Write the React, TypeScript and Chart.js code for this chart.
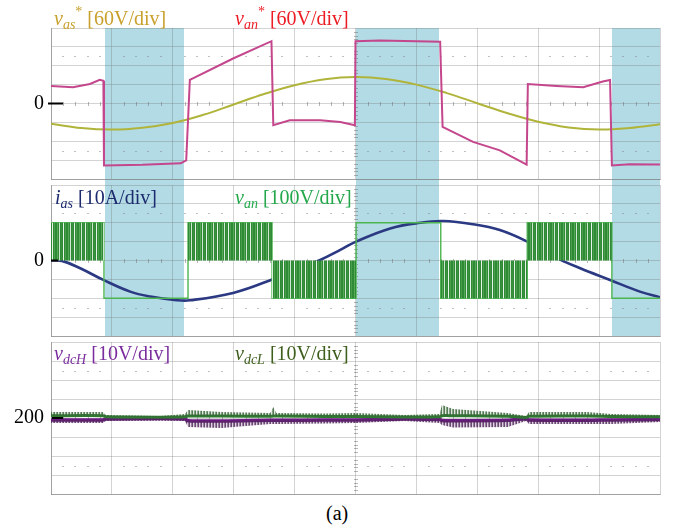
import React, { useEffect, useRef } from 'react';
import { Chart, registerables } from 'chart.js';

Chart.register(...registerables);

// ---------------- data (time axis in oscilloscope divisions 0..10) ----------------
const shadeStart = [0.89, 5.01, 9.21];
const shadeEnd = [2.18, 6.37, 10];

// Panel 1: v_as* and v_an* (V), 60 V/div
const vasStarT = [0, 0.5, 1, 1.5, 2, 2.5, 3, 3.5, 4, 4.5, 5, 5.5, 6, 6.5, 7, 7.5, 8, 8.5, 9, 9.5, 10];
const vasStarV = [-64, -78, -83, -77, -62, -36, -3, 30, 58, 77, 84, 78, 60, 33, 1, -31, -58, -76, -83, -78, -66];

const vanStarT = [0, 0.36, 0.64, 0.8, 0.86, 0.87, 1.5, 2.13, 2.22, 2.28, 2.99, 3.62, 3.65, 3.92, 4.42, 4.75, 4.99, 5.0, 5.4, 6.39, 6.43, 6.93, 7.37, 7.81, 7.83, 8.3, 8.74, 9.06, 9.18, 9.21, 9.5, 10];
const vanStarV = [56, 52, 62, 75, 72, -197, -195, -190, -181, 75, 143, 198, -69, -53, -53, -59, -69, 198, 200, 196, -74, -122, -149, -194, 62, 56, 52, 70, 75, -197, -193, -194];

// Panel 2: i_as (A), 10 A/div ; v_an (V), 100 V/div
const iasT = [0, 0.18, 0.48, 0.86, 1.3, 1.63, 2.06, 2.28, 2.99, 3.65, 4.42, 4.75, 5.01, 5.57, 6.06, 6.44, 6.93, 7.37, 7.82, 8.31, 8.69, 9.18, 9.67, 10];
const iasV = [0, -0.2, -4.1, -10.3, -16.5, -19.1, -21.0, -21.1, -17.2, -9.8, 0.3, 5.6, 10, 17, 20, 20.9, 19.2, 16.1, 10, 1.3, -4.1, -10.3, -16.5, -19.5];

const vanSegStart = [0, 0.87, 2.25, 3.63, 5.01, 6.4, 7.82, 9.21];
const vanSegEnd = [0.87, 2.25, 3.63, 5.01, 6.4, 7.82, 9.21, 10];
const vanLevel = [200, -200, 200, -200, 200, -200, 200, -200];
const vanPwm = [true, false, true, true, false, true, true, false];

// Panel 3: v_dcH / v_dcL (V), 10 V/div, around 200 V
const dcT = [0, 0.85, 0.9, 1.8, 2.2, 2.25, 2.8, 3.6, 3.65, 3.7, 4.5, 5.0, 5.8, 6.38, 6.42, 6.6, 7.5, 7.8, 7.85, 8.8, 9.2, 10];
const dcLUpper = [203.2, 203.2, 201.6, 201.1, 202.1, 204.2, 203.2, 202.6, 205.8, 202.6, 202.4, 202.6, 201.6, 202.1, 206.8, 204.7, 202.6, 201.1, 203.2, 203.2, 202.1, 201.6];
const dcLCore = [201.2, 201.2, 200.6, 200.4, 200.6, 201.0, 201.0, 200.9, 201.0, 201.0, 200.8, 200.8, 200.5, 200.6, 201.2, 201.2, 200.9, 200.3, 200.9, 201.0, 200.8, 200.6];
const dcHCore = [199.0, 199.0, 199.5, 199.8, 199.5, 198.6, 198.4, 198.8, 198.8, 198.8, 198.9, 199.0, 199.5, 199.2, 198.7, 198.6, 198.8, 199.6, 198.9, 198.8, 199.0, 199.2];
const dcHLower = [197.4, 197.4, 198.4, 198.6, 198.4, 195.3, 194.7, 196.8, 196.8, 196.8, 197.1, 197.4, 198.4, 197.4, 196.3, 195.0, 195.3, 198.4, 196.8, 196.8, 196.8, 197.9];

// ---------------- styling ----------------
const SERIF = '"Liberation Serif", "Times New Roman", Times, serif';
const GRID = 'rgba(110,110,110,0.3)';
const BORDER = 'rgba(120,120,120,0.55)';
const SHADE = 'rgb(178,219,230)';

const pts = (t: number[], v: number[]) => t.map((x, i) => ({ x, y: v[i] }));

function makePattern(cols: string[]): any {
  const c = document.createElement('canvas');
  c.width = cols.length;
  c.height = 1;
  const ctx = c.getContext('2d')!;
  cols.forEach((col, i) => {
    ctx.fillStyle = col;
    ctx.fillRect(i, 0, 1, 1);
  });
  return ctx.createPattern(c, 'repeat');
}

function makeScopePlugin(cfg: any) {
  return {
    id: 'scope',
    beforeDraw(chart: any) {
      if (!cfg.shade) return;
      const { ctx, chartArea: a } = chart;
      const xs = chart.scales.x;
      ctx.save();
      ctx.fillStyle = SHADE;
      const bottom = cfg.shadeToCanvasBottom ? chart.height : a.bottom;
      for (let i = 0; i < shadeStart.length; i++) {
        const x1 = Math.round(xs.getPixelForValue(shadeStart[i]));
        const x2 = Math.round(xs.getPixelForValue(shadeEnd[i]));
        ctx.fillRect(x1, a.top, x2 - x1, bottom - a.top);
      }
      ctx.restore();
    },
    beforeDatasetsDraw(chart: any) {
      const { ctx } = chart;
      const xs = chart.scales.x;
      const ys = chart.scales.y;
      ctx.save();
      ctx.fillStyle = 'rgba(120,120,120,0.45)';
      for (const v of cfg.dotRows) {
        const y = Math.round(ys.getPixelForValue(v));
        for (let i = 1; i < 50; i++) {
          if (i % 5 === 0) continue;
          const x = Math.round(xs.getPixelForValue(i * 0.2));
          ctx.fillRect(x - 1, y, 2, 1);
        }
      }
      ctx.fillStyle = 'rgba(110,110,110,0.5)';
      const y0 = Math.round(ys.getPixelForValue(cfg.zeroVal));
      for (let i = 1; i < 50; i++) {
        if (i % 5 === 0) continue;
        const x = Math.round(xs.getPixelForValue(i * 0.2));
        ctx.fillRect(x, y0 - 2, 1, 4);
      }
      const xc = Math.round(xs.getPixelForValue(5));
      for (let i = 1; i < 40; i++) {
        if (i % 5 === 0) continue;
        const v = cfg.yMin + (i * (cfg.yMax - cfg.yMin)) / 40;
        const y = Math.round(ys.getPixelForValue(v));
        ctx.fillRect(xc - 2, y, 4, 1);
      }
      ctx.restore();
    },
    afterDatasetsDraw(chart: any) {
      if (!cfg.marker) return;
      const { ctx, chartArea: a } = chart;
      const ys = chart.scales.y;
      const y = ys.getPixelForValue(cfg.zeroVal);
      ctx.save();
      ctx.strokeStyle = '#000';
      ctx.lineWidth = 2;
      ctx.beginPath();
      ctx.moveTo(a.left + cfg.marker[0], y);
      ctx.lineTo(a.left + cfg.marker[1], y);
      ctx.stroke();
      ctx.restore();
    },
  };
}

function baseOptions(min: number, max: number, step: number, label: number, padTop: number, padBottom: number, extraScales: any = {}) {
  return {
    responsive: false,
    maintainAspectRatio: false,
    animation: false,
    devicePixelRatio: 1,
    layout: { autoPadding: false, padding: { top: padTop, bottom: padBottom, left: 0, right: 24 } },
    plugins: { legend: { display: false }, tooltip: { enabled: false }, title: { display: false } },
    elements: { point: { radius: 0 } },
    scales: {
      x: {
        type: 'linear',
        min: 0,
        max: 10,
        ticks: { display: false, stepSize: 1, autoSkip: false },
        grid: { color: GRID, drawTicks: false, lineWidth: 1 },
        border: { color: BORDER },
        afterFit: (s: any) => {
          s.height = 0;
          s.paddingLeft = 0;
          s.paddingRight = 0;
        },
      },
      y: {
        type: 'linear',
        min,
        max,
        ticks: {
          stepSize: step,
          autoSkip: false,
          padding: 7,
          color: '#000',
          font: { family: SERIF, size: 20 },
          callback: (v: any) => (Math.abs(Number(v) - label) < 1e-6 ? String(label) : ''),
        },
        grid: { color: GRID, drawTicks: false, lineWidth: 1 },
        border: { color: BORDER },
        afterFit: (s: any) => {
          s.width = 51;
          s.paddingTop = 0;
          s.paddingBottom = 0;
        },
      },
      ...extraScales,
    },
  };
}

function SigLabel(props: { left: number; baseline: number; color: string; sym: string; sub: string; star?: boolean; scale: string }) {
  const { left, baseline, color, sym, sub, star, scale } = props;
  return (
    <div
      style={{
        position: 'absolute',
        left,
        top: baseline - 17,
        color,
        fontFamily: SERIF,
        fontSize: 20,
        lineHeight: '20px',
        whiteSpace: 'nowrap',
        zIndex: 5,
      }}
    >
      <span style={{ fontStyle: 'italic' }}>{sym}</span>
      <span style={{ fontStyle: 'italic', fontSize: 14, position: 'relative', top: 4 }}>{sub}</span>
      {star ? <span style={{ fontSize: 14, position: 'relative', top: -9 }}>*</span> : null}
      {' [' + scale + ']'}
    </div>
  );
}

export default function App() {
  const r1 = useRef<HTMLCanvasElement>(null);
  const r2 = useRef<HTMLCanvasElement>(null);
  const r3 = useRef<HTMLCanvasElement>(null);

  useEffect(() => {
    document.body.style.margin = '0';
    const charts: Chart[] = [];

    const pwmPattern = makePattern(['#2f8a35', '#2f8a35', '#58a85a', '#2f8a35', '#cfe8cf', '#2f8a35', '#3a9140', '#2f8a35', '#e6f3e6', '#2f8a35', '#4a9e4c']);
    const greenHair = makePattern(['rgba(55,100,55,0.85)', 'rgba(55,100,55,0.15)', 'rgba(55,100,55,0.6)']);
    const purpleHair = makePattern(['rgba(80,40,90,0.85)', 'rgba(80,40,90,0.2)', 'rgba(80,40,90,0.6)']);

    // Panel 1
    charts.push(
      new Chart(r1.current as HTMLCanvasElement, {
        type: 'line',
        data: {
          datasets: [
            { label: 'v_an*', data: pts(vanStarT, vanStarV), borderColor: '#c4468c', borderWidth: 2, pointRadius: 0, tension: 0 },
            { label: 'v_as*', data: pts(vasStarT, vasStarV), borderColor: '#b0b43a', borderWidth: 2, pointRadius: 0, tension: 0.4 },
          ],
        },
        options: baseOptions(-240, 240, 60, 0, 28, 6) as any,
        plugins: [makeScopePlugin({ shade: true, shadeToCanvasBottom: true, dotRows: [-150, 150], zeroVal: 0, yMin: -240, yMax: 240, marker: [-3, 12] })],
      } as any)
    );

    // Panel 2
    const pwmFill: { x: number; y: number }[] = [];
    const outline: { x: number; y: number }[] = [];
    for (let i = 0; i < vanSegStart.length; i++) {
      const s = vanSegStart[i];
      const e = vanSegEnd[i];
      const L = vanLevel[i];
      if (vanPwm[i]) {
        pwmFill.push({ x: s, y: 0 }, { x: s, y: L }, { x: e, y: L }, { x: e, y: 0 });
      } else {
        pwmFill.push({ x: s, y: 0 }, { x: e, y: 0 });
      }
      outline.push({ x: s, y: L }, { x: e, y: L });
    }
    charts.push(
      new Chart(r2.current as HTMLCanvasElement, {
        type: 'line',
        data: {
          datasets: [
            { label: 'v_an pwm', data: pwmFill, yAxisID: 'yv', borderWidth: 0, borderColor: 'rgba(0,0,0,0)', backgroundColor: pwmPattern, fill: 'origin', pointRadius: 0, tension: 0 },
            { label: 'v_an', data: outline, yAxisID: 'yv', borderColor: '#4cb54f', borderWidth: 1.4, pointRadius: 0, tension: 0, fill: false },
            { label: 'i_as', data: pts(iasT, iasV), yAxisID: 'y', borderColor: '#2b3882', borderWidth: 2.6, pointRadius: 0, tension: 0.4, fill: false },
          ],
        },
        options: baseOptions(-40, 40, 10, 0, 1, 8, {
          yv: { type: 'linear', display: false, min: -400, max: 400 },
        }) as any,
        plugins: [makeScopePlugin({ shade: true, shadeToCanvasBottom: false, dotRows: [-25, 25], zeroVal: 0, yMin: -40, yMax: 40, marker: [0, 7] })],
      } as any)
    );

    // Panel 3
    charts.push(
      new Chart(r3.current as HTMLCanvasElement, {
        type: 'line',
        data: {
          datasets: [
            { label: 'vdcL env', data: pts(dcT, dcLUpper), borderWidth: 0, borderColor: 'rgba(0,0,0,0)', pointRadius: 0, fill: false, tension: 0 },
            { label: 'vdcL env low', data: pts(dcT, dcLCore), borderWidth: 0, borderColor: 'rgba(0,0,0,0)', backgroundColor: greenHair, pointRadius: 0, fill: '-1', tension: 0 },
            { label: 'vdcH env', data: pts(dcT, dcHCore), borderWidth: 0, borderColor: 'rgba(0,0,0,0)', pointRadius: 0, fill: false, tension: 0 },
            { label: 'vdcH env low', data: pts(dcT, dcHLower), borderWidth: 0, borderColor: 'rgba(0,0,0,0)', backgroundColor: purpleHair, pointRadius: 0, fill: '-1', tension: 0 },
            { label: 'v_dcL', data: pts(dcT, dcLCore), borderColor: '#2e7a30', borderWidth: 3, pointRadius: 0, tension: 0.3, fill: false },
            { label: 'v_dcH', data: pts(dcT, dcHCore), borderColor: '#6a1a80', borderWidth: 3.5, pointRadius: 0, tension: 0.3, fill: false },
          ],
        },
        options: baseOptions(160, 240, 10, 200, 4, 8) as any,
        plugins: [makeScopePlugin({ shade: false, dotRows: [175, 225], zeroVal: 200, yMin: 160, yMax: 240, marker: [1, 12] })],
      } as any)
    );

    return () => {
      charts.forEach((c) => c.destroy());
    };
  }, []);

  return (
    <div style={{ position: 'absolute', left: 0, top: 0, width: 684, height: 529, background: '#fff', overflow: 'hidden' }}>
      <canvas ref={r1} width={684} height={185} style={{ position: 'absolute', left: 0, top: 0, width: 684, height: 185 }} />
      <canvas ref={r2} width={684} height={160} style={{ position: 'absolute', left: 0, top: 184, width: 684, height: 160 }} />
      <canvas ref={r3} width={684} height={164} style={{ position: 'absolute', left: 0, top: 338, width: 684, height: 164 }} />

      <SigLabel left={54} baseline={25} color="#c9a02c" sym="v" sub="as" star scale="60V/div" />
      <SigLabel left={235} baseline={25} color="#ec1c24" sym="v" sub="an" star scale="60V/div" />
      <SigLabel left={55} baseline={204} color="#1d2b6e" sym="i" sub="as" scale="10A/div" />
      <SigLabel left={235} baseline={204} color="#22a84a" sym="v" sub="an" scale="100V/div" />
      <SigLabel left={54} baseline={360} color="#7b2d9e" sym="v" sub="dcH" scale="10V/div" />
      <SigLabel left={235} baseline={360} color="#3e5e1c" sym="v" sub="dcL" scale="10V/div" />

      <div style={{ position: 'absolute', left: 326, top: 503, fontFamily: SERIF, fontSize: 20, lineHeight: '20px', color: '#000' }}>(a)</div>
    </div>
  );
}
